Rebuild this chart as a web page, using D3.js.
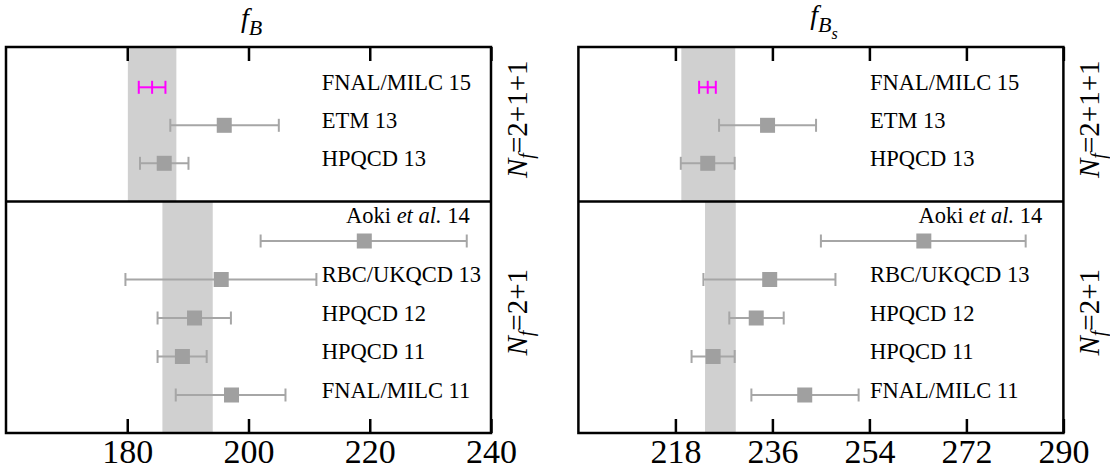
<!DOCTYPE html>
<html>
<head>
<meta charset="utf-8">
<script src="https://cdn.jsdelivr.net/npm/d3@7"></script>
<style>
  body { margin: 0; background: #fff; }
  svg { display: block; }
  svg text { font-family: "Liberation Serif", "Times New Roman", Times, serif; fill: #000; }
</style>
</head>
<body>
<div id="chart"></div>
<script>
// Data
// ---------------------------------------------------------
const labelsTop = ["FNAL/MILC 15", "ETM 13", "HPQCD 13"];
const labelsBottom = ["Aoki et al. 14", "RBC/UKQCD 13", "HPQCD 12", "HPQCD 11", "FNAL/MILC 11"];

// [central, low, high]
const fBTop = [[184.1, 181.9, 186.3], [196.0, 187.1, 205.0], [186.1, 182.1, 190.1]];
const fBBottom = [[219.1, 202.0, 236.0], [195.5, 179.7, 211.2], [191.1, 185.0, 197.1],
                  [189.1, 185.0, 193.1], [197.2, 188.0, 206.1]];
const fBsTop = [[224.0, 222.4, 225.5], [235.1, 226.1, 244.1], [224.0, 219.0, 229.0]];
const fBsBottom = [[264.1, 245.0, 283.0], [235.5, 223.2, 247.7], [233.0, 228.0, 238.1],
                   [225.0, 221.0, 229.0], [242.0, 232.1, 252.0]];

// averages shown as grey bands [low, high]
const fBBands = [[180.1, 188.1], [185.8, 194.1]];
const fBsBands = [[219.1, 229.1], [223.5, 229.2]];

const fBTicks = [180, 200, 220, 240];
const fBsTicks = [218, 236, 254, 272, 290];

const groupLabels = ["2+1+1", "2+1"];

// Layout
// ---------------------------------------------------------
const width = 1110, height = 474;
const panelW = 485,
      frameTop = 47, frameMid = 201.5, frameBottom = 433,
      tickLen = 14,
      sq = 15, capH = 13;

const gray = "#a6a6a6", boxGray = "#a0a0a0", bandColor = "#d0d0d0", magenta = "#ff00ff";

const svg = d3.select("#chart").append("svg")
    .attr("width", width)
    .attr("height", height);

function panel(opt) {
    let g = svg.append("g").attr("transform", `translate(${opt.left},0)`);

    let x = d3.scaleLinear().domain(opt.domain).range([0, panelW]);
    let yTop = d3.scaleLinear().domain([0, 2]).range([87.3, 163.3]);
    let yBot = d3.scaleLinear().domain([0, 4]).range([241, 395]);

    // bands
    g.selectAll(".band").data(opt.bands).enter()
        .append("rect")
        .attr("class", "band")
        .attr("x", d => x(d[0]))
        .attr("width", d => x(d[1]) - x(d[0]))
        .attr("y", (d, i) => i == 0 ? frameTop : frameMid)
        .attr("height", (d, i) => i == 0 ? frameMid - frameTop : frameBottom - frameMid)
        .attr("fill", bandColor);

    // rows
    let rows = [];
    opt.upper.forEach((d, i) => rows.push({v: d, y: yTop(i), label: labelsTop[i], hl: i == 0}));
    opt.lower.forEach((d, i) => rows.push({v: d, y: yBot(i), label: labelsBottom[i], aoki: i == 0}));

    let row = g.selectAll(".row").data(rows).enter().append("g").attr("class", "row");

    row.append("line")
        .attr("x1", d => x(d.v[1])).attr("x2", d => x(d.v[2]))
        .attr("y1", d => d.y).attr("y2", d => d.y)
        .attr("stroke", d => d.hl ? magenta : gray)
        .attr("stroke-width", 2);

    [1, 2].forEach(k => {
        row.append("line")
            .attr("x1", d => x(d.v[k])).attr("x2", d => x(d.v[k]))
            .attr("y1", d => d.y - capH / 2).attr("y2", d => d.y + capH / 2)
            .attr("stroke", d => d.hl ? magenta : gray)
            .attr("stroke-width", 2);
    });

    row.filter(d => d.hl).append("line")
        .attr("x1", d => x(d.v[0])).attr("x2", d => x(d.v[0]))
        .attr("y1", d => d.y - capH / 2).attr("y2", d => d.y + capH / 2)
        .attr("stroke", magenta)
        .attr("stroke-width", 2);

    row.filter(d => !d.hl).append("rect")
        .attr("x", d => x(d.v[0]) - sq / 2)
        .attr("y", d => d.y - sq / 2)
        .attr("width", sq).attr("height", sq)
        .attr("fill", boxGray);

    // labels
    row.filter(d => !d.aoki).append("text")
        .attr("x", opt.labelX)
        .attr("y", d => d.y + 2.5)
        .attr("font-size", 22.5)
        .text(d => d.label);

    let ak = row.filter(d => d.aoki).append("text")
        .attr("x", 340)
        .attr("y", d => d.y - 17.7)
        .attr("font-size", 22.5);
    ak.append("tspan").text("Aoki ");
    ak.append("tspan").attr("font-style", "italic").text("et al.");
    ak.append("tspan").text(" 14");

    // axes
    let axT = g.append("g").attr("transform", `translate(0,${frameTop})`)
        .call(d3.axisTop(x).tickValues(opt.ticks).tickSize(-tickLen).tickFormat(""));
    let axB = g.append("g").attr("transform", `translate(0,${frameBottom})`)
        .call(d3.axisBottom(x).tickValues(opt.ticks).tickSize(-tickLen).tickPadding(30));
    [axT, axB].forEach(a => {
        a.select(".domain").remove();
        a.selectAll(".tick line").attr("stroke", "#000").attr("stroke-width", 2.5);
    });
    axB.selectAll(".tick text")
        .attr("font-family", "Liberation Serif, Times New Roman, serif")
        .attr("font-size", 34)
        .attr("fill", "#000")
        .attr("dy", 0);

    // frame
    g.append("rect")
        .attr("x", 0).attr("y", frameTop)
        .attr("width", panelW).attr("height", frameBottom - frameTop)
        .attr("fill", "none").attr("stroke", "#000").attr("stroke-width", 2.5);
    g.append("line")
        .attr("x1", 0).attr("x2", panelW)
        .attr("y1", frameMid).attr("y2", frameMid)
        .attr("stroke", "#000").attr("stroke-width", 2.5);

    // title
    let t = g.append("text")
        .attr("x", panelW / 2 + 3).attr("y", opt.titleY)
        .attr("text-anchor", "middle")
        .attr("font-size", 28)
        .attr("font-style", "italic");
    t.append("tspan").text("f");
    t.append("tspan").attr("font-size", 22).attr("dy", 8).text("B");
    if (opt.sub) t.append("tspan").attr("font-size", 16).attr("dy", 7).text(opt.sub);

    // N_f labels
    [[frameTop, frameMid], [frameMid, frameBottom]].forEach((r, i) => {
        let n = g.append("text")
            .attr("transform", `translate(${panelW + 36},${(r[0] + r[1]) / 2 - 5}) rotate(-90)`)
            .attr("text-anchor", "middle")
            .attr("font-size", 29);
        n.append("tspan").attr("font-style", "italic").text("N");
        n.append("tspan").attr("font-style", "italic").attr("font-size", 20).attr("dy", 6).text("f");
        n.append("tspan").attr("dy", -6).text("=" + groupLabels[i]);
    });
}

panel({left: 6, domain: [160, 240], bands: fBBands, upper: fBTop, lower: fBBottom,
       ticks: fBTicks, labelX: 315.7, titleY: 27});
panel({left: 578.4, domain: [200, 290], bands: fBsBands, upper: fBsTop, lower: fBsBottom,
       ticks: fBsTicks, labelX: 291.6, titleY: 24, sub: "s"});
</script>
</body>
</html>
